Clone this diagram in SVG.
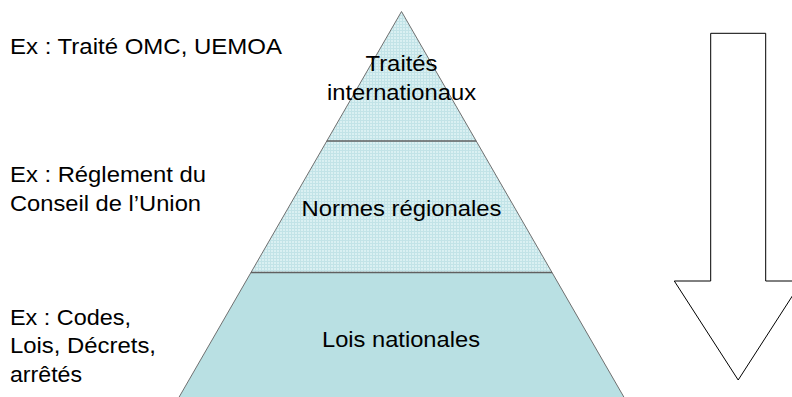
<svg xmlns="http://www.w3.org/2000/svg" width="792" height="397" viewBox="0 0 792 397">
<style>
  .lbl { font-family: "Liberation Sans", Arial, sans-serif; font-size: 22px; fill: #000; }
  .ctr { text-anchor: middle; }
  .edge { stroke: #707070; stroke-width: 1; fill: none; }
  .div { stroke: #606060; stroke-width: 1.5; }
</style>
<defs>
  <pattern id="grid" width="6" height="6" patternUnits="userSpaceOnUse">
    <rect width="6" height="6" fill="#daf0f2"/>
    <path d="M0 0.5H6M0.5 0V6M0 3.5H6M3.5 0V6" stroke="#c2e3e7" stroke-width="1"/>
  </pattern>
</defs>
<rect width="792" height="397" fill="#ffffff"/>
<g id="pyramid-top">
  <polygon points="401.5,11.5 326.8,141 476.2,141" fill="url(#grid)"/>
</g>
<g id="pyramid-middle">
  <polygon points="326.8,141 476.2,141 552.1,272.5 250.9,272.5" fill="url(#grid)"/>
</g>
<g id="pyramid-bottom">
  <polygon points="250.9,272.5 552.1,272.5 625,399 178,399" fill="#b9e0e3"/>
</g>
<g id="connectors">
  <polygon class="edge" points="401.5,11.5 625,399 178,399"/>
  <line class="div" x1="326.8" y1="141" x2="476.2" y2="141"/>
  <line class="div" x1="250.9" y1="272.5" x2="552.1" y2="272.5"/>
</g>
<g id="label-traites">
  <text class="lbl ctr" x="401.5" y="70.7" textLength="72" lengthAdjust="spacingAndGlyphs">Traités</text>
  <text class="lbl ctr" x="401.5" y="100" textLength="149" lengthAdjust="spacingAndGlyphs">internationaux</text>
</g>
<g id="label-normes">
  <text class="lbl ctr" x="401.5" y="216" textLength="200" lengthAdjust="spacingAndGlyphs">Normes régionales</text>
</g>
<g id="label-lois">
  <text class="lbl ctr" x="401" y="347.3" textLength="158" lengthAdjust="spacingAndGlyphs">Lois nationales</text>
</g>
<g id="ex-traite">
  <text class="lbl" x="10" y="54.3" textLength="272" lengthAdjust="spacingAndGlyphs">Ex : Traité OMC, UEMOA</text>
</g>
<g id="ex-reglement">
  <text class="lbl" x="10" y="181.7" textLength="196" lengthAdjust="spacingAndGlyphs">Ex : Réglement du</text>
  <text class="lbl" x="10" y="210.7" textLength="191" lengthAdjust="spacingAndGlyphs">Conseil de l’Union</text>
</g>
<g id="ex-codes">
  <text class="lbl" x="10" y="325" textLength="121" lengthAdjust="spacingAndGlyphs">Ex : Codes,</text>
  <text class="lbl" x="10" y="353.3" textLength="146" lengthAdjust="spacingAndGlyphs">Lois, Décrets,</text>
  <text class="lbl" x="10" y="381.7" textLength="72" lengthAdjust="spacingAndGlyphs">arrêtés</text>
</g>
<g id="arrow">
  <polygon points="710.7,33.3 765.7,33.3 765.7,281 802,281 738.2,380 674.3,281 710.7,281" fill="#ffffff" stroke="#000000" stroke-width="1"/>
</g>
</svg>
